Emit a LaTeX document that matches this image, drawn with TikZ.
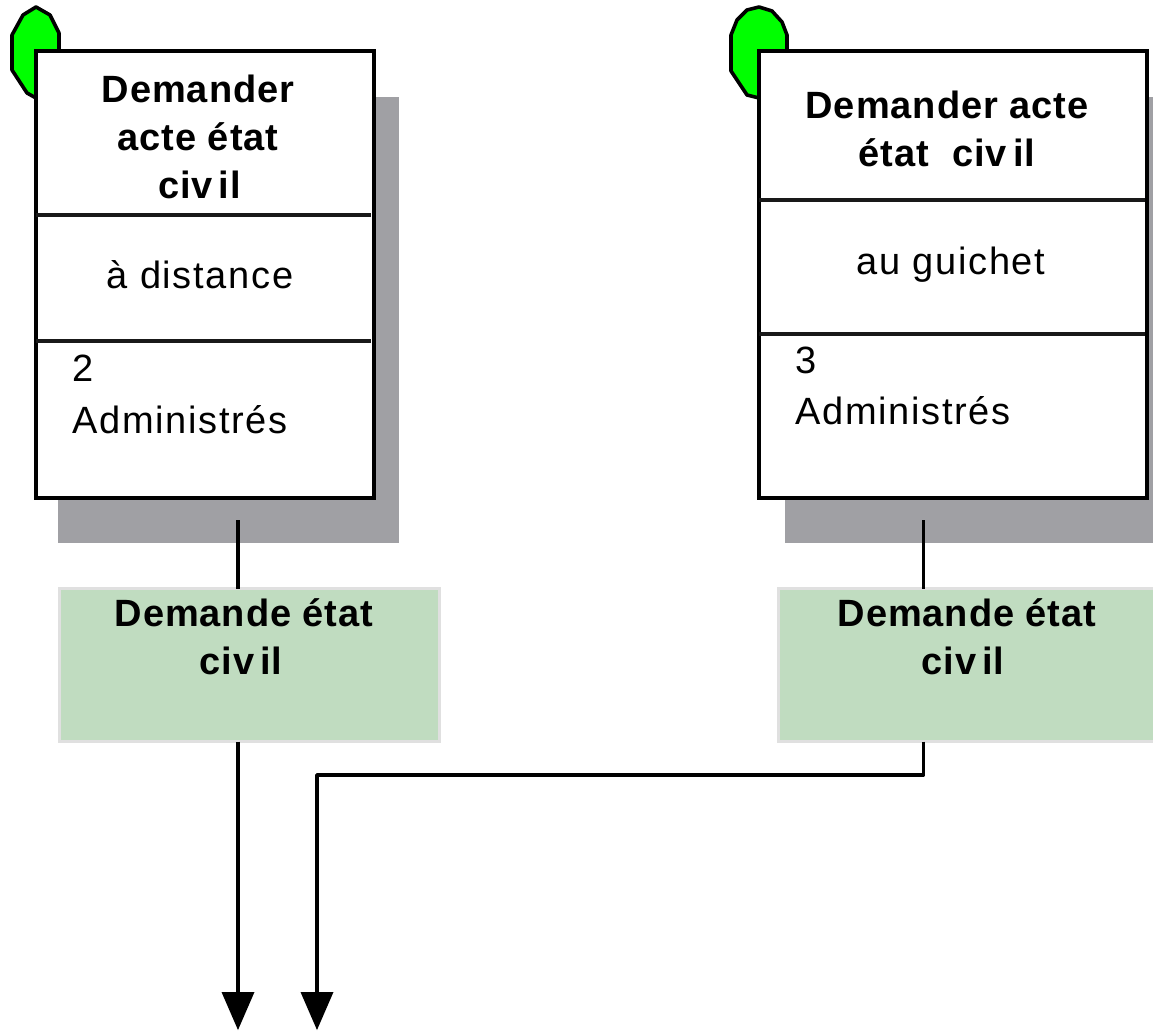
\documentclass[tikz,border=0pt]{standalone}
\usepackage{fontspec}
\setmainfont{Liberation Sans}[LetterSpace=4.4,BoldFeatures={LetterSpace=2.5}]
\usetikzlibrary{arrows.meta}
\definecolor{shadowgray}{HTML}{A0A0A4}
\definecolor{startgreen}{HTML}{00FF00}
\definecolor{datagreen}{HTML}{C0DCC0}
\definecolor{databorder}{HTML}{E0E0E0}
\newcommand{\civ}{civ\kern6pt il}
\tikzset{
  x=1pt,y=-1pt,
  stroke/.style={line width=3.6pt,line join=round,black},
  shadowbox/.style={fill=shadowgray,draw=none,inner sep=0pt,outer sep=0pt},
  procbox/.style={draw=black,line width=3.6pt,fill=white,inner sep=0pt,outer sep=0pt},
  databox/.style={draw=databorder,line width=3pt,fill=datagreen,inner sep=0pt,outer sep=0pt},
  marker/.style={draw=black,line width=3.6pt,fill=startgreen,line join=round},
  divider/.style={line width=3.2pt,black!90},
  flow/.style={stroke,-{Triangle[length=38pt,width=33pt,line width=0pt]}},
  title/.style={font=\fontsize{38}{48}\selectfont\bfseries,align=center,anchor=base,inner sep=0pt},
  body/.style={font=\fontsize{38}{51}\selectfont,anchor=base,inner sep=0pt},
  bodyleft/.style={body,anchor=base west,align=left},
}
\begin{document}
\begin{tikzpicture}
\useasboundingbox (0,0) rectangle (1153,1032);
% left
\node[shadowbox,anchor=north west,minimum width=341pt,minimum height=446pt] (s1) at (58,97) {};
\draw[marker] (36,7) -- (50,15) -- (59,33) -- (59,60) -- (36,98) -- (27,93) -- (12,70) -- (12,35) -- (23,15) -- cycle;
\node[procbox,anchor=north west,minimum width=338pt,minimum height=447pt] (p1) at (36,51) {};
\draw[divider] (36,215) -- (371,215);
\draw[divider] (36,341) -- (371,341);
\node[title] (t1) at (198,199) {Demander\\acte état\\\kern3pt\civ};
\node[body] (l1) at (200,288) {à distance};
\node[bodyleft] (n1) at (72,381) {2};
\node[bodyleft] (a1) at (72,433) {Administrés};
\node[databox,anchor=north west,minimum width=380pt,minimum height=153pt] (g1) at (59.5,588.5) {};
\node[title] (h1) at (244,674) {Demande état\\\civ\kern6pt};
% right
\node[shadowbox,anchor=north west,minimum width=400pt,minimum height=446pt] (s2) at (785,97) {};
\draw[marker] (759,7) -- (772,11) -- (782,22) -- (787,35) -- (787,60) -- (759,98) -- (747,95) -- (731,71) -- (731,35) -- (737,20) -- (747,10) -- cycle;
\node[procbox,anchor=north west,minimum width=388pt,minimum height=447pt] (p2) at (759,51) {};
\draw[divider] (759,200) -- (1145,200);
\draw[divider] (759,334) -- (1145,334);
\node[title] (t2) at (947,167) {Demander acte\\état~~\civ};
\node[body] (l2) at (951,275) {au guichet};
\node[bodyleft] (n2) at (795,373) {3};
\node[bodyleft] (a2) at (795,424) {Administrés};
\node[databox,anchor=north west,minimum width=400pt,minimum height=153pt] (g2) at (778.5,588.5) {};
\node[title] (h2) at (967,674) {Demande état\\\civ\kern8pt};
% connectors
\coordinate (c1) at (238,520);
\coordinate (c2) at (923.5,520);
\coordinate (e1) at (238,1030);
\coordinate (e2) at (317,1030);
\coordinate (b2) at (923.5,775);
\draw[stroke] (c1) -- (g1.north -| c1);
\draw[stroke] (c2) -- (g2.north -| c2);
\draw[flow] (g1.south -| e1) -- (e1);
\draw[flow] (g2.south -| b2) -- (b2) -| (e2);
\end{tikzpicture}
\end{document}
